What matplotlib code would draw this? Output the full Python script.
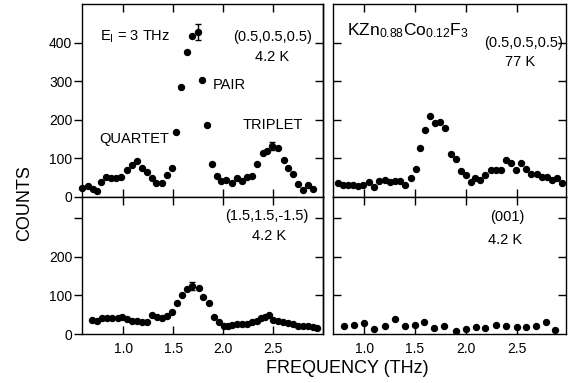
import numpy as np
import matplotlib.pyplot as plt

plt.rcParams['font.family'] = ['Liberation Sans', 'DejaVu Sans']
plt.rcParams['mathtext.fontset'] = 'custom'
plt.rcParams['mathtext.rm'] = 'Liberation Sans'
plt.rcParams['mathtext.it'] = 'Liberation Sans:italic'

# ------------------------
# Datos
# ------------------------

# (0.5,0.5,0.5)  4.2 K
f_tl = [0.59, 0.65, 0.70, 0.74, 0.78, 0.83, 0.88, 0.93, 0.98, 1.04, 1.09, 1.14,
        1.19, 1.24, 1.29, 1.33, 1.39, 1.44, 1.49, 1.53, 1.58, 1.64, 1.69, 1.75,
        1.79, 1.84, 1.89, 1.94, 1.98, 2.03, 2.09, 2.14, 2.19, 2.24, 2.29, 2.34,
        2.40, 2.44, 2.49, 2.55, 2.61, 2.65, 2.70, 2.75, 2.80, 2.85, 2.90]
c_tl = [24, 28, 21, 16, 38, 53, 48, 48, 51, 70, 83, 93,
        74, 66, 48, 35, 35, 57, 74, 168, 284, 376, 417, 427,
        303, 187, 85, 55, 41, 44, 37, 48, 41, 51, 55, 85,
        115, 120, 133, 126, 96, 76, 59, 33, 18, 31, 22]
err_tl_f = [1.75, 2.49]
err_tl_c = [427, 133]
err_tl_e = [20, 10]

# (0.5,0.5,0.5)  77 K
f_tr = [0.74, 0.79, 0.84, 0.89, 0.94, 0.99, 1.05, 1.10, 1.15, 1.20, 1.25, 1.30,
        1.35, 1.40, 1.46, 1.51, 1.55, 1.60, 1.65, 1.70, 1.75, 1.80, 1.85, 1.90,
        1.95, 2.00, 2.05, 2.09, 2.14, 2.19, 2.25, 2.30, 2.35, 2.40, 2.45, 2.49,
        2.54, 2.59, 2.64, 2.70, 2.75, 2.80, 2.85, 2.90, 2.95]
c_tr = [35, 30, 30, 30, 29, 32, 40, 27, 41, 44, 38, 41,
        41, 31, 50, 72, 126, 174, 211, 191, 195, 178, 111, 98,
        68, 56, 38, 50, 44, 57, 70, 70, 70, 96, 87, 70,
        89, 73, 60, 60, 51, 51, 44, 48, 37]

# (1.5,1.5,-1.5)  4.2 K
f_bl = [0.69, 0.74, 0.79, 0.84, 0.89, 0.95, 0.99, 1.04, 1.09, 1.14, 1.19, 1.24,
        1.29, 1.34, 1.39, 1.44, 1.49, 1.54, 1.59, 1.64, 1.69, 1.76, 1.80, 1.86,
        1.91, 1.96, 2.01, 2.05, 2.09, 2.14, 2.19, 2.24, 2.29, 2.34, 2.38, 2.42,
        2.46, 2.50, 2.55, 2.60, 2.65, 2.70, 2.75, 2.80, 2.85, 2.90, 2.94]
c_bl = [35, 33, 41, 41, 41, 41, 45, 38, 33, 33, 30, 31,
        50, 43, 41, 47, 57, 81, 100, 116, 124, 118, 97, 81,
        44, 30, 20, 20, 23, 27, 27, 25, 30, 33, 41, 45,
        50, 36, 33, 30, 28, 27, 22, 21, 20, 18, 15]
err_bl_f = [1.69]
err_bl_c = [124]
err_bl_e = [10]

# (001)  4.2 K
f_br = [0.80, 0.90, 1.00, 1.10, 1.20, 1.30, 1.40, 1.50, 1.59, 1.69, 1.79,
        1.90, 2.00, 2.10, 2.19, 2.30, 2.40, 2.50, 2.59, 2.69, 2.79, 2.88]
c_br = [22, 24, 28, 13, 21, 39, 21, 24, 30, 15, 21,
        9, 13, 19, 15, 24, 21, 19, 17, 21, 30, 11]

xticks = [1.0, 1.5, 2.0, 2.5]
xticklabels = ['1.0', '1.5', '2.0', '2.5']

# ------------------------
# Figura
# ------------------------

W, H = 569, 383
fig = plt.figure(figsize=(W / 100, H / 100), dpi=100)


def rect(x0, y0, x1, y1):
    return [x0 / W, 1 - y1 / H, (x1 - x0) / W, (y1 - y0) / H]


ax_tl = fig.add_axes(rect(82, 4, 323, 197))
ax_tr = fig.add_axes(rect(333, 4, 566, 197))
ax_bl = fig.add_axes(rect(82, 197, 323, 334))
ax_br = fig.add_axes(rect(333, 197, 566, 334))

ms = 4.3
ax_tl.plot(f_tl, c_tl, 'o', color='black', ms=ms, clip_on=False)
ax_tl.errorbar(err_tl_f, err_tl_c, yerr=err_tl_e, fmt='none', ecolor='black',
               elinewidth=1, capsize=2)
ax_tr.plot(f_tr, c_tr, 'o', color='black', ms=ms)
ax_bl.plot(f_bl, c_bl, 'o', color='black', ms=ms)
ax_bl.errorbar(err_bl_f, err_bl_c, yerr=err_bl_e, fmt='none', ecolor='black',
               elinewidth=1, capsize=2)
ax_br.plot(f_br, c_br, 'o', color='black', ms=ms)

for ax in (ax_tl, ax_bl):
    ax.set_xlim(0.587, 2.997)
for ax in (ax_tr, ax_br):
    ax.set_xlim(0.692, 2.987)
for ax in (ax_tl, ax_tr):
    ax.set_ylim(0, 500)
for ax in (ax_bl, ax_br):
    ax.set_ylim(0, 355)


def estilo(ax, yticks, ylabels, izquierda, abajo):
    for s in ax.spines.values():
        s.set_linewidth(1.0)
    ax.set_xticks(xticks)
    ax.tick_params(axis='x', direction='in', top=True, bottom=True,
                   length=6, width=1.0, labelsize=10, pad=6,
                   labelbottom=abajo)
    if abajo:
        ax.set_xticklabels(xticklabels)
    ax.set_yticks(yticks)
    if izquierda:
        ax.set_yticklabels(ylabels)
        ax.tick_params(axis='y', direction='out', left=True, right=False,
                       length=6, width=1.0, labelsize=10, pad=1)
        sec = ax.secondary_yaxis('right')
        sec.set_yticks([t for t in yticks if t > 0])
        sec.tick_params(direction='in', length=6, width=1.0, labelright=False)
        sec.spines['right'].set_linewidth(1.0)
    else:
        ax.tick_params(axis='y', direction='in', left=True, right=True,
                       length=6, width=1.0, labelleft=False)


estilo(ax_tl, [0, 100, 200, 300, 400], ['0', '100', '200', '300', '400'], True, False)
estilo(ax_tr, [100, 200, 300, 400], [], False, False)
estilo(ax_bl, [0, 100, 200, 300], ['0', '100', '200', ''], True, True)
estilo(ax_br, [100, 200, 300], [], False, True)

# ------------------------
# Textos
# ------------------------

fs = 10.5
ax_tl.text(0.77, 414, r'E$_{\mathrm{I}}$ = 3 THz', fontsize=fs, ha='left', va='center')
ax_tl.text(2.49, 414, '(0.5,0.5,0.5)', fontsize=fs, ha='center', va='center', clip_on=False)
ax_tl.text(2.49, 363, '4.2 K', fontsize=fs, ha='center', va='center')
ax_tl.text(1.89, 290, 'PAIR', fontsize=fs, ha='left', va='center')
ax_tl.text(1.11, 150, 'QUARTET', fontsize=fs, ha='center', va='center')
ax_tl.text(2.50, 186, 'TRIPLET', fontsize=fs, ha='center', va='center')

ax_tr.text(0.83, 430, r'KZn$_{0.88}$Co$_{0.12}$F$_{3}$', fontsize=12.5, ha='left', va='center')
ax_tr.text(2.57, 399, '(0.5,0.5,0.5)', fontsize=fs, ha='center', va='center')
ax_tr.text(2.53, 350, '77 K', fontsize=fs, ha='center', va='center')

ax_bl.text(2.44, 305, '(1.5,1.5,-1.5)', fontsize=fs, ha='center', va='center')
ax_bl.text(2.46, 253, '4.2 K', fontsize=fs, ha='center', va='center')

ax_br.text(2.41, 304, '(001)', fontsize=fs, ha='center', va='center')
ax_br.text(2.39, 244, '4.2 K', fontsize=fs, ha='center', va='center')

fig.text(24.5 / W, 1 - 203 / H, 'COUNTS', rotation=90, fontsize=13,
         ha='center', va='center')
fig.text(347 / W, 1 - 368.5 / H, 'FREQUENCY (THz)', fontsize=13,
         ha='center', va='center')

fig.savefig('out.png', dpi=100)
